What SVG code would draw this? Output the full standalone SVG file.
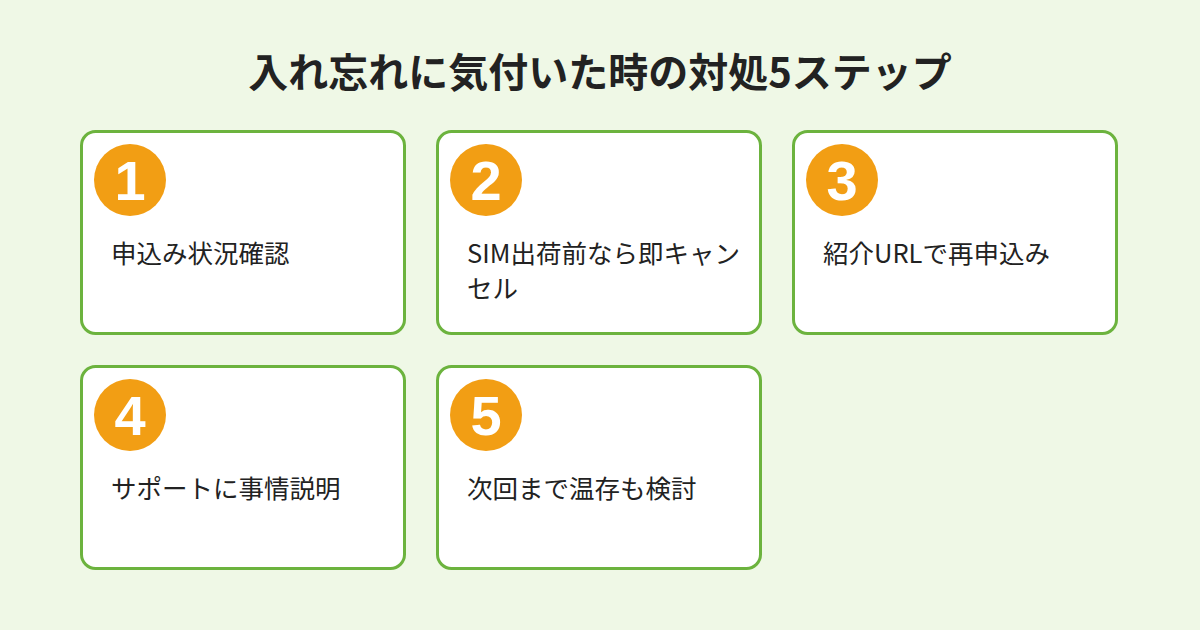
<svg xmlns="http://www.w3.org/2000/svg" width="1200" height="630" viewBox="0 0 1200 630">
<style>
.card{fill:#fff;stroke:#6cb33e;stroke-width:3}
.c{fill:#f29e14}
.n{font-family:"Liberation Sans",Arial,sans-serif;font-weight:bold;font-size:56px;fill:#fff;text-anchor:middle}
.t{font-family:"Noto Sans CJK JP","Noto Sans",sans-serif;font-size:25.5px;fill:#222}
.h{font-family:"Noto Sans CJK JP",sans-serif;font-size:40px;font-weight:bold;fill:#222;text-anchor:middle}
</style>
<rect width="1200" height="630" fill="#eff8e6"/>
<text class="h" x="600" y="87">入れ忘れに気付いた時の対処5ステップ</text>
<g id="n1"><rect class="card" x="81.5" y="131.5" width="323" height="202" rx="14"/><circle class="c" cx="130" cy="180" r="36"/><text class="n" x="130" y="200">1</text><text class="t" x="111" y="263">申込み状況確認</text></g>
<g id="n2"><rect class="card" x="437.5" y="131.5" width="323" height="202" rx="14"/><circle class="c" cx="486" cy="180" r="36"/><text class="n" x="486" y="200">2</text><text class="t" x="467" y="263">SIM出荷前なら即キャン</text><text class="t" x="467" y="298">セル</text></g>
<g id="n3"><rect class="card" x="793.5" y="131.5" width="323" height="202" rx="14"/><circle class="c" cx="842" cy="180" r="36"/><text class="n" x="842" y="200">3</text><text class="t" x="823" y="263">紹介URLで再申込み</text></g>
<g id="n4"><rect class="card" x="81.5" y="366.5" width="323" height="202" rx="14"/><circle class="c" cx="130" cy="415" r="36"/><text class="n" x="130" y="435">4</text><text class="t" x="111" y="498">サポートに事情説明</text></g>
<g id="n5"><rect class="card" x="437.5" y="366.5" width="323" height="202" rx="14"/><circle class="c" cx="486" cy="415" r="36"/><text class="n" x="486" y="435">5</text><text class="t" x="467" y="498">次回まで温存も検討</text></g>
<g id="connectors"/>
</svg>
